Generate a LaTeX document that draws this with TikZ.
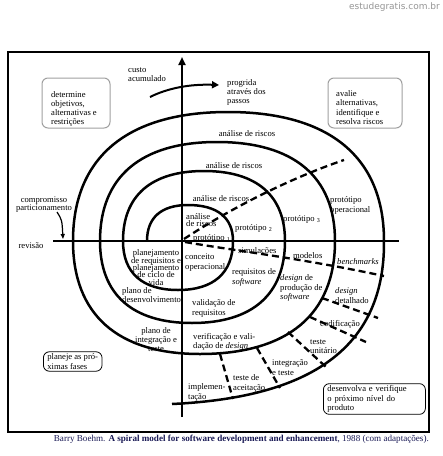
\documentclass[tikz,border=0pt]{standalone}
\usepackage{fontspec}
\setmainfont{Liberation Serif}
\newfontfamily\wmfont{DejaVu Sans}
\usetikzlibrary{arrows.meta}
\definecolor{capblue}{RGB}{25,25,85}
\definecolor{boxgray}{RGB}{160,160,160}
\definecolor{wmgray}{RGB}{150,150,150}
\newcommand\lblfont{\fontsize{8.6}{9.4}\selectfont\lineskiplimit=-20pt}
\newcommand\tightfont[1]{\fontsize{8.6}{#1}\selectfont\lineskiplimit=-20pt}
\begin{document}
\begin{tikzpicture}[x=1pt,y=-1pt,
  spiralline/.style={line width=2.5pt},
  axisline/.style={line width=2pt},
  dashline/.style={line width=2.3pt, dash pattern=on 7pt off 4pt},
  lbl/.style={inner sep=0pt, anchor=west, align=left, font=\lblfont},
  clbl/.style={inner sep=0pt, anchor=center, align=center, font=\lblfont},
  graybox/.style={draw=boxgray, line width=1pt, rounded corners=6pt, inner sep=0pt},
  blackbox/.style={draw=black, line width=0.8pt, rounded corners=6pt, inner xsep=4pt, inner ysep=2pt, align=left, font=\lblfont}
]
\useasboundingbox (0,0) rectangle (443,456);
\fill[white] (0,0) rectangle (443,456);
% watermark
\node[inner sep=0pt, anchor=east, text=wmgray, font=\wmfont\fontsize{9}{10}\selectfont] (wm) at (440,7) {estudegratis.com.br};
% frame
\draw[line width=1.3pt] (8,52) rectangle (429,432);
% axes
\coordinate (vbot) at (182,417);
\coordinate (vtop) at (182,57);
\draw[axisline,-{Triangle[length=8pt,width=7pt]}] (vbot) -- (vtop);
\coordinate (hl) at (53,241);
\coordinate (hr) at (399,241);
\draw[axisline] (hl) -- (hr);
% spiral
\draw[spiralline] (147,241)
  .. controls (147,217.6) and (161.35,205) .. (188,205)
  .. controls (217.25,205) and (233,217.6) .. (233,241)
  .. controls (233,272.85) and (213.75,290) .. (178,290)
  .. controls (142.25,290) and (123,272.85) .. (123,241)
  .. controls (123,195.5) and (151.35,171) .. (204,171)
  .. controls (256.65,171) and (285,195.5) .. (285,241)
  .. controls (285,294.3) and (252.45,323) .. (192,323)
  .. controls (132.2,323) and (100,294.3) .. (100,241)
  .. controls (100,176.65) and (140.95,142) .. (217,142)
  .. controls (293.7,142) and (335,176.65) .. (335,241)
  .. controls (335,314.45) and (287.75,354) .. (200,354)
  .. controls (117.45,354) and (73,314.45) .. (73,241)
  .. controls (73,157.15) and (127.25,112) .. (228,112)
  .. controls (329.4,112) and (384,157.15) .. (384,241)
  .. controls (385,355) and (300,398) .. (172,404);
% radial dashed lines
\draw[dashline] (184,239) .. controls (225,212) and (285,180) .. (344,160);
\draw[dashline] (185,242) .. controls (230,250) and (300,258) .. (384,276);
\draw[dashline] (322,298) -- (378,318);
\draw[dashline] (310,317) -- (366,342);
\draw[dashline] (288,332) -- (326,367);
\draw[dashline] (257,348) -- (280,388);
\draw[dashline] (220,354) -- (233,399);
% top texts
\node[lbl] (custo) at (128,74.5) {custo\\acumulado};
\node[lbl] (progrida) at (227,92.5) {progrida\\através dos\\passos};
\coordinate (pa) at (150,97);
\coordinate (pb) at (219,85);
\draw[line width=2pt,-{Triangle[length=7pt,width=7pt]}] (pa) .. controls (168,88) and (190,84) .. (pb);
% boxes
\node[graybox, minimum width=68pt, minimum height=50pt] (tlbox) at (76,103) {};
\node[lbl, font=\tightfont{9.2}] (tltext) at (51,109) {determine\\objetivos,\\alternativas e\\restrições};
\node[graybox, minimum width=74pt, minimum height=50pt] (trbox) at (365,103) {};
\node[lbl, font=\tightfont{9.6}] (trtext) at (336,107.5) {avalie\\alternativas,\\identifique e\\resolva riscos};
\node[blackbox, anchor=west] (blbox) at (43,361.5) {planeje as pró-\\ximas fases};
\node[blackbox, anchor=west, text width=94pt] (brbox) at (323,399) {desenvolva e verifique\\o próximo nível do\\produto};
% left texts
\node[clbl, font=\tightfont{8}] (comp) at (44,205) {compromisso\\particionamento};
\coordinate (comptip) at (63,239);
\draw[line width=1.2pt,-{Triangle[length=5pt,width=4pt]}] (57,212) .. controls (62,220) .. (comptip);
\node[clbl] (revisao) at (31,246) {revisão};
% risk analyses
\node[clbl] (ar1) at (247,134) {análise de riscos};
\node[clbl] (ar2) at (234,166) {análise de riscos};
\node[clbl] (ar3) at (221,199) {análise de riscos};
\node[lbl, font=\tightfont{6.5}] (ar4) at (186,220) {análise\\de riscos};
% prototypes
\node[lbl] (p1) at (193,238) {protótipo \textsubscript{1}};
\node[lbl] (p2) at (235,228) {protótipo \textsubscript{2}};
\node[lbl] (p3) at (283,219) {protótipo \textsubscript{3}};
\node[lbl] (pop) at (330,205.5) {protótipo\\operacional};
% models row
\node[lbl] (simul) at (238,251) {simulações};
\node[lbl] (model) at (293,256) {modelos};
\node[lbl] (bench) at (337,262) {\textit{benchmarks}};
% lower right
\node[lbl] (conc) at (185,262.5) {conceito\\operacional};
\node[lbl] (reqsw) at (232,277.5) {requisitos de\\\textit{software}};
\node[lbl] (dprod) at (280,288) {\textit{design} de\\produção de\\\textit{software}};
\node[lbl] (ddet) at (335,295.5) {\textit{design}\\detalhado};
\node[lbl] (codif) at (320,324) {codificação};
\node[lbl] (tunit) at (310,346.5) {teste\\unitário};
\node[lbl] (integ) at (272,367.5) {integração\\e teste};
\node[lbl] (taceit) at (233,383.5) {teste de\\aceitação};
\node[lbl] (implem) at (188,392.5) {implemen-\\tação};
\node[lbl] (verif) at (193,342) {verificação e vali-\\dação de \textit{design}};
\node[lbl] (valid) at (192,308.5) {validação de\\requisitos};
% lower left
\node[clbl] (pinteg) at (156,339.5) {plano de\\integração e\\teste};
\node[lbl] (pdes) at (122,295) {plano de\\desenvolvimento};
\node[clbl, font=\tightfont{7.3}] (preq) at (156,267.5) {planejamento\\de requisitos e\\planejamento\\de ciclo de\\vida};
% caption
\node[inner sep=0pt, anchor=east, text=capblue, font=\fontsize{9.1}{10}\selectfont] (cap) at (429,439) {Barry Boehm. \textbf{A spiral model for software development and enhancement}, 1988 (com adaptações).};
\end{tikzpicture}
\end{document}
